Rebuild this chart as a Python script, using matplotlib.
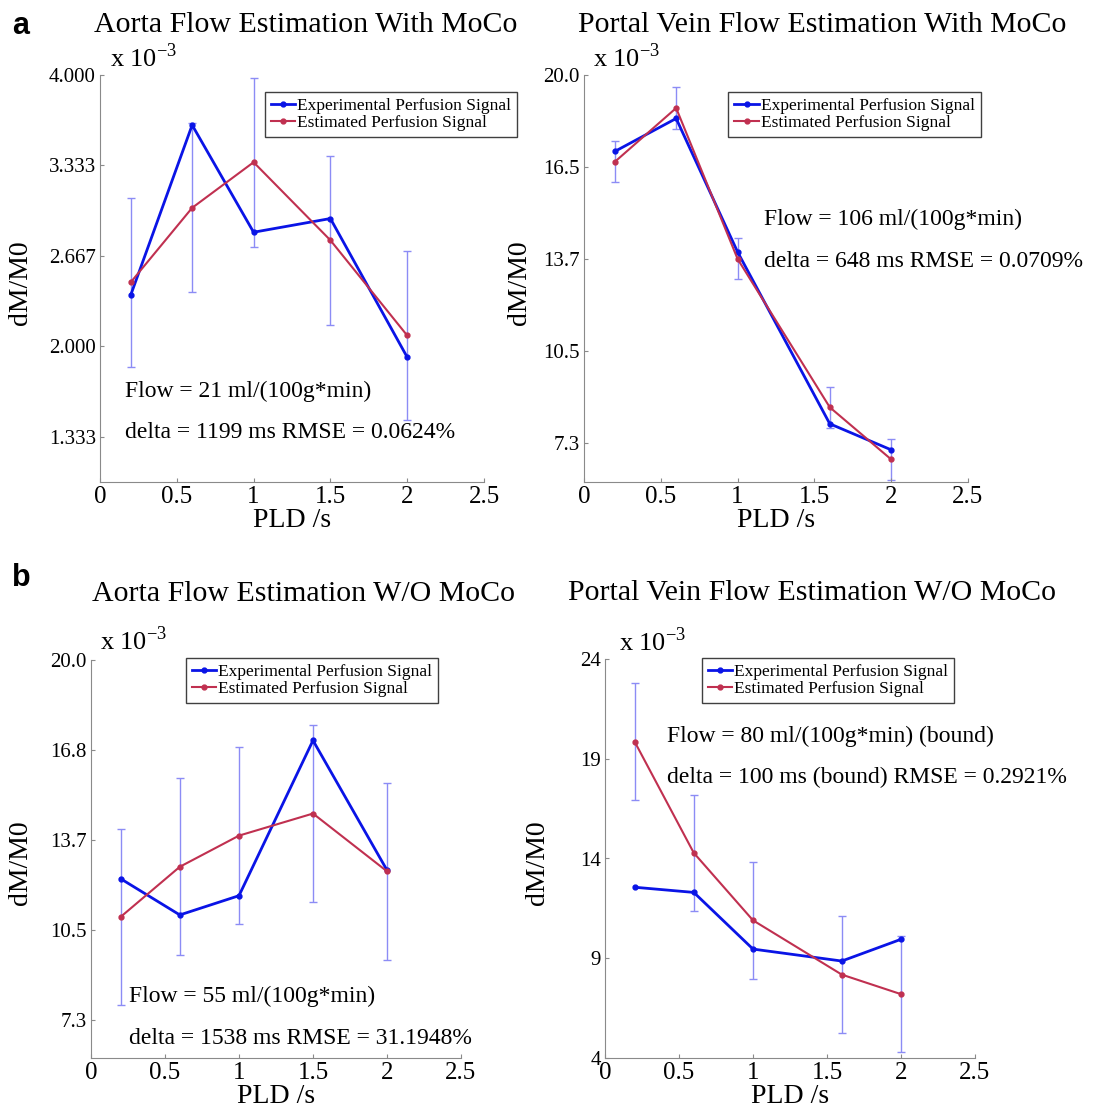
import numpy as np
import matplotlib
matplotlib.use('Agg')
import matplotlib.pyplot as plt

plt.rcParams['font.family'] = ['Liberation Serif', 'DejaVu Serif']
plt.rcParams['mathtext.fontset'] = 'custom'
plt.rcParams['mathtext.rm'] = 'Liberation Serif'

# data (dM/M0 in units of 1e-3)
pld_a = [0.2, 0.6, 1.0, 1.5, 2.0]
exp_a = [2.378, 3.631, 2.841, 2.942, 1.920]
est_a = [2.472, 3.021, 3.357, 2.782, 2.080]
err_a = 0.624

pld_b = [0.2, 0.6, 1.0, 1.6, 2.0]
exp_b = [17.36, 18.50, 13.89, 7.96, 7.06]
est_b = [17.00, 18.86, 13.65, 8.53, 6.73]
err_b = 0.709

pld_c = [0.2, 0.6, 1.0, 1.5, 2.0]
exp_c = [12.28, 11.00, 11.68, 17.16, 12.58]
est_c = [10.93, 12.70, 13.80, 14.58, 12.54]
err_c = 3.12

pld_d = [0.2, 0.6, 1.0, 1.6, 2.0]
exp_d = [12.56, 12.30, 9.46, 8.86, 9.95]
est_d = [19.86, 14.28, 10.90, 8.18, 7.20]
err_d = 2.92

titles = ['Aorta Flow Estimation With MoCo', 'Portal Vein Flow Estimation With MoCo',
          'Aorta Flow Estimation W/O MoCo', 'Portal Vein Flow Estimation W/O MoCo']
notes = [('Flow = 21 ml/(100g*min)', 'delta = 1199 ms RMSE = 0.0624%'),
         ('Flow = 106 ml/(100g*min)', 'delta = 648 ms RMSE = 0.0709%'),
         ('Flow = 55 ml/(100g*min)', 'delta = 1538 ms RMSE = 31.1948%'),
         ('Flow = 80 ml/(100g*min) (bound)', 'delta = 100 ms (bound) RMSE = 0.2921%')]

yticks = [[4/3, 2, 8/3, 10/3, 4],
          [7.3, 10.475, 13.65, 16.825, 20],
          [7.3, 10.475, 13.65, 16.825, 20],
          [4, 9, 14, 19, 24]]
ylabels_t = [['1.333', '2.000', '2.667', '3.333', '4.000'],
             ['7.3', '10.5', '13.7', '16.5', '20.0'],
             ['7.3', '10.5', '13.7', '16.8', '20.0'],
             ['4', '9', '14', '19', '24']]
ylims = [(1, 4), (5.95, 20), (5.95, 20), (4, 24)]
xticks = [0, 0.5, 1, 1.5, 2, 2.5]
xticklabels = ['0', '0.5', '1', '1.5', '2', '2.5']

W, H = 1102, 1116
# pixel boxes: left, top, right, bottom
boxes = [(100, 75, 484, 482), (584, 75, 968, 482), (91, 660, 461, 1058), (605, 659, 975, 1058)]
title_pos = [(0.536, 1.105), (0.62, 1.105), (0.573, 1.148), (0.56, 1.148)]
exp_pos = [(0.025, 1.02), (0.024, 1.02), (0.025, 1.025), (0.038, 1.02)]
note_pos = [(0.066, 0.222, 0.122), (0.47, 0.646, 0.542), (0.104, 0.156, 0.049), (0.167, 0.805, 0.702)]
leg_pos = [(0.429, 0.959), (0.376, 0.959), (0.257, 1.006), (0.261, 1.003)]
ylab_x = [-0.175, -0.135, -0.157, -0.149]

series = [(pld_a, exp_a, est_a, err_a), (pld_b, exp_b, est_b, err_b),
          (pld_c, exp_c, est_c, err_c), (pld_d, exp_d, est_d, err_d)]

fig = plt.figure(figsize=(W / 100, H / 100), dpi=100)

for i, (x, ye, ys, er) in enumerate(series):
    l, t, r, b = boxes[i]
    ax = fig.add_axes([l / W, 1 - b / H, (r - l) / W, (b - t) / H])
    ax.errorbar(x, ys, yerr=er, fmt='none', ecolor='#8c8cf5', elinewidth=1.0,
                capsize=3, capthick=1.0, zorder=1)
    ax.plot(x, ye, '-o', color='#0a14e6', lw=2.0, ms=3.5,
            label='Experimental Perfusion Signal', zorder=2)
    ax.plot(x, ys, '-o', color='#c03050', lw=1.5, ms=3.5,
            label='Estimated Perfusion Signal', zorder=3)

    ax.set_xlim(0, 2.5)
    ax.set_ylim(*ylims[i])
    ax.set_xticks(xticks)
    ax.set_xticklabels(xticklabels, fontsize=18)
    ax.set_yticks(yticks[i])
    ax.set_yticklabels(ylabels_t[i], fontsize=15)
    for s in ['top', 'right']:
        ax.spines[s].set_visible(False)
    for s in ['left', 'bottom']:
        ax.spines[s].set_color('#8a8a8a')
    ax.tick_params(direction='in', length=3, color='#8a8a8a', pad=3)
    ax.tick_params(axis='x', pad=3)

    ax.set_xlabel('PLD /s', fontsize=20, labelpad=0)
    ax.set_ylabel('dM/M0', fontsize=20)
    ax.yaxis.set_label_coords(ylab_x[i], 0.49)

    ax.text(title_pos[i][0], title_pos[i][1], titles[i], transform=ax.transAxes,
            ha='center', va='baseline', fontsize=21.5)
    ax.text(exp_pos[i][0], exp_pos[i][1], r'x 10$^{-3}$', transform=ax.transAxes,
            ha='left', va='baseline', fontsize=19)
    nx, ny1, ny2 = note_pos[i]
    ax.text(nx, ny1, notes[i][0], transform=ax.transAxes, ha='left', va='center', fontsize=17)
    ax.text(nx, ny2, notes[i][1], transform=ax.transAxes, ha='left', va='center', fontsize=17)

    leg = ax.legend(loc='upper left', bbox_to_anchor=leg_pos[i], borderaxespad=0,
                    fontsize=12.5, handlelength=1.4, handletextpad=0.1,
                    labelspacing=0.05, borderpad=0.35, fancybox=False,
                    framealpha=1, edgecolor='#404040')
    leg.get_frame().set_linewidth(1.0)

fig.text(12 / W, 1 - 34 / H, 'a', fontsize=22, fontweight='bold',
         family='Liberation Sans', ha='left', va='baseline')
fig.text(12 / W, 1 - 586 / H, 'b', fontsize=22, fontweight='bold',
         family='Liberation Sans', ha='left', va='baseline')

fig.savefig('out.png', dpi=100)
